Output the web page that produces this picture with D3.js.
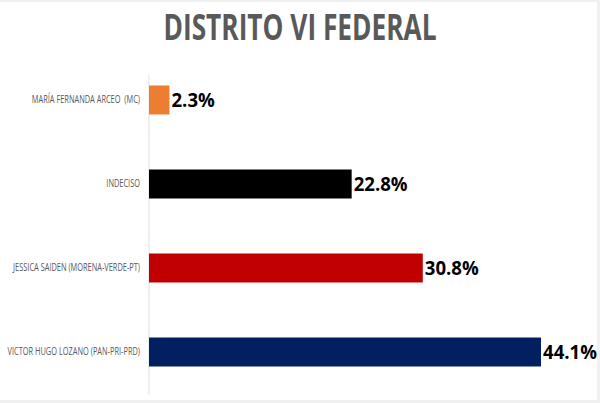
<!DOCTYPE html>
<html><head><meta charset="utf-8">
<script src="https://cdn.jsdelivr.net/npm/d3@7/dist/d3.min.js"></script>
<style>
html,body{margin:0;padding:0;background:#fff;}
svg{display:block;}
</style></head>
<body>
<svg id="c" width="600" height="403"></svg>
<script>
const categories = ["MARÍA FERNANDA ARCEO  (MC)", "INDECISO", "JESSICA SAIDEN (MORENA-VERDE-PT)", "VICTOR HUGO LOZANO (PAN-PRI-PRD)"];
const values = [2.3, 22.8, 30.8, 44.1];
const colors = ["#ED7D31", "#000000", "#C00000", "#002060"];
const title = "DISTRITO VI FEDERAL";

const svg = d3.select("#c");
// frame shadow
svg.append("rect").attr("x",0).attr("y",0).attr("width",600).attr("height",403).attr("fill","#f0f0f0");
svg.append("rect").attr("x",0).attr("y",2).attr("width",597).attr("height",398).attr("fill","#fff");

const x = d3.scaleLinear().domain([0, 44.1]).range([149, 541]);
const y = d3.scaleBand().domain(categories).range([58, 394]).paddingInner(0.655).paddingOuter(0.3275);

svg.append("text").attr("x", 300).attr("y", 40).attr("text-anchor","middle")
  .attr("font-family","'Open Sans',sans-serif").attr("font-weight","bold")
  .attr("font-size", 36).attr("fill","#595959")
  .attr("textLength", 273).attr("lengthAdjust","spacingAndGlyphs")
  .text(title);

svg.append("line").attr("x1", 149).attr("x2", 149).attr("y1", 75).attr("y2", 395)
  .attr("stroke","#e0e0e0").attr("stroke-width",1);

svg.selectAll("rect.bar").data(values).join("rect").attr("class","bar")
  .attr("x", x(0)).attr("y", (d,i)=>y(categories[i]))
  .attr("width", d=>x(d)-x(0)).attr("height", y.bandwidth())
  .attr("fill", (d,i)=>colors[i]);

const yAxis = d3.axisLeft(y).tickSize(0).tickPadding(9);
const g = svg.append("g").attr("transform","translate(149,0)").call(yAxis);
g.select(".domain").remove();
g.selectAll("text").attr("font-family","'Open Sans',sans-serif")
  .attr("font-size", 10).attr("fill","#595959")
  .style("white-space","pre")
  .each(function(){
    const w = this.getComputedTextLength();
    d3.select(this).attr("textLength", w*0.74).attr("lengthAdjust","spacingAndGlyphs");
  });

svg.selectAll("text.val").data(values).join("text").attr("class","val")
  .attr("x", d=>x(d)+2).attr("y", (d,i)=>y(categories[i]) + y.bandwidth()/2)
  .attr("dy","0.37em")
  .attr("font-family","'Open Sans',sans-serif").attr("font-weight","bold")
  .attr("font-size", 20).attr("fill","#000")
  .each(function(d){
    d3.select(this).text(d.toFixed(1)+"%");
    const w = this.getComputedTextLength();
    d3.select(this).attr("textLength", w*0.93).attr("lengthAdjust","spacingAndGlyphs");
  });
</script>
</body></html>
